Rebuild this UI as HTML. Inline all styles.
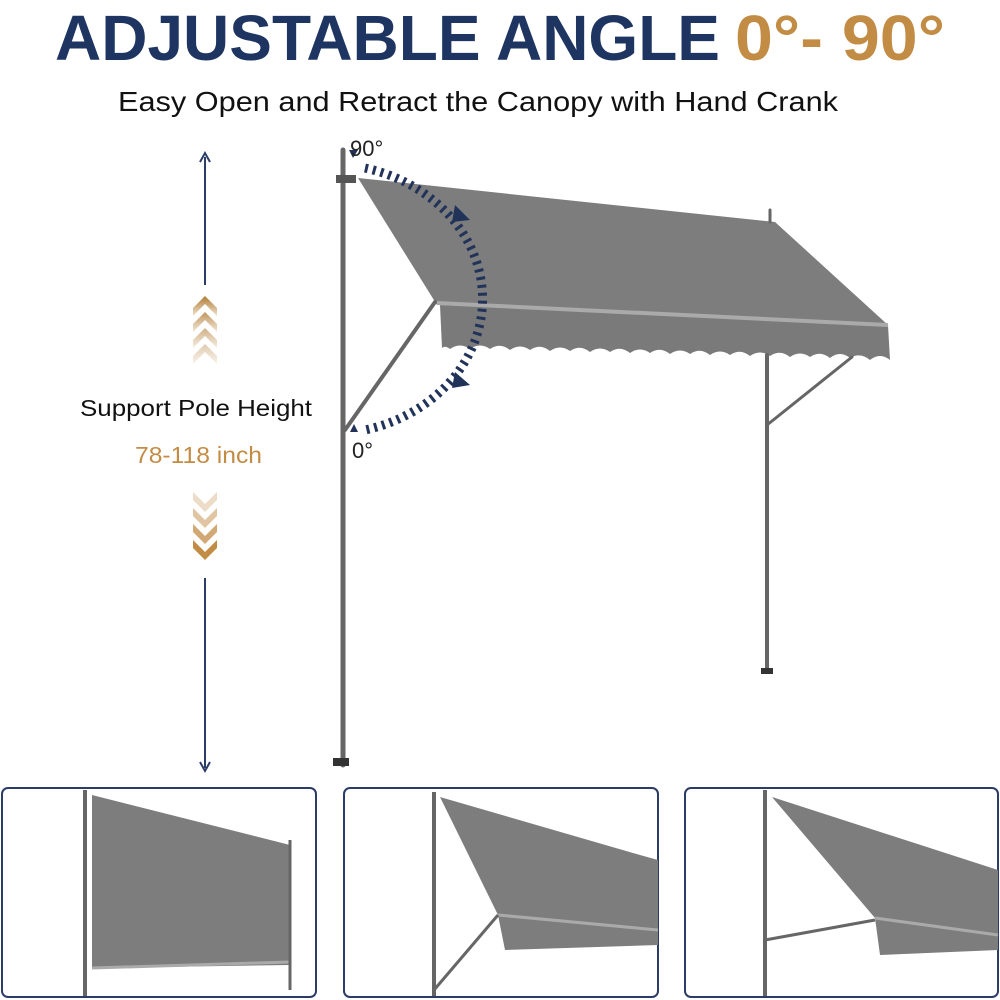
<!DOCTYPE html>
<html><head><meta charset="utf-8"><style>
html,body{margin:0;padding:0;background:#fff;}
svg{display:block;font-family:"Liberation Sans",sans-serif;}
</style></head><body>
<svg width="1000" height="1000" viewBox="0 0 1000 1000">
<defs>
<linearGradient id="cg" x1="0" y1="0" x2="0" y2="1"><stop offset="0" stop-color="#b07a35"/><stop offset="1" stop-color="#f0e2cc"/></linearGradient>
<linearGradient id="cg2" x1="0" y1="0" x2="0" y2="1"><stop offset="0" stop-color="#f0e2cc"/><stop offset="1" stop-color="#b07a35"/></linearGradient>
</defs>
<text x="55" y="60" font-size="64" font-weight="bold" fill="#1e3461" textLength="665" lengthAdjust="spacingAndGlyphs">ADJUSTABLE ANGLE</text>
<text x="735" y="60" font-size="64" font-weight="bold" fill="#c38c45" textLength="210" lengthAdjust="spacingAndGlyphs">0°- 90°</text>
<text x="118" y="111" font-size="28" fill="#111" textLength="720" lengthAdjust="spacingAndGlyphs">Easy Open and Retract the Canopy with Hand Crank</text>
<!-- height arrow -->
<g stroke="#2b3d66" stroke-width="2" fill="none">
<line x1="205" y1="157" x2="205" y2="285"/><line x1="205" y1="578" x2="205" y2="768"/>
<polyline points="200,162 205,153 210,162"/><polyline points="200,762 205,771 210,762"/>
</g>
<g fill="url(#cg)">
<path d="M193,308 L205,296 L217,308 L217,316 L205,304 L193,316Z"/>
<path d="M193,324 L205,312 L217,324 L217,332 L205,320 L193,332Z" opacity=".8"/>
<path d="M193,340 L205,328 L217,340 L217,348 L205,336 L193,348Z" opacity=".6"/>
<path d="M193,356 L205,344 L217,356 L217,364 L205,352 L193,364Z" opacity=".4"/>
</g>
<g fill="#c38c45">
<path d="M193,492 L205,504 L217,492 L217,500 L205,512 L193,500Z" opacity=".3"/>
<path d="M193,508 L205,520 L217,508 L217,516 L205,528 L193,516Z" opacity=".5"/>
<path d="M193,524 L205,536 L217,524 L217,532 L205,544 L193,532Z" opacity=".75"/>
<path d="M193,540 L205,552 L217,540 L217,548 L205,560 L193,548Z"/>
</g>
<text x="80" y="416" font-size="23" fill="#111" textLength="232" lengthAdjust="spacingAndGlyphs">Support Pole Height</text>
<text x="135" y="463" font-size="23" fill="#c38c45" textLength="127" lengthAdjust="spacingAndGlyphs">78-118 inch</text>
<!-- main awning -->
<polygon points="358,178 775,222 888,325 437,305" fill="#7d7d7d"/>
<path d="M440,305 L888,325 L890,360 Q880,352 870,360 Q860,352 850,358 Q840,350 830,358 Q820,350 810,357 Q800,350 790,357 Q780,349 770,356 Q760,349 750,356 Q740,348 730,355 Q720,348 710,355 Q700,347 690,354 Q680,347 670,354 Q660,346 650,353 Q640,346 630,353 Q620,345 610,352 Q600,345 590,352 Q580,344 570,351 Q560,344 550,351 Q540,343 530,350 Q520,343 510,350 Q500,342 490,349 Q480,342 470,349 Q460,342 450,349 Q445,345 442,348Z" fill="#7a7a7a"/>
<line x1="437" y1="303" x2="888" y2="325" stroke="#aaa" stroke-width="4"/>
<g stroke="#666" stroke-linecap="round">
<line x1="343" y1="150" x2="343" y2="765" stroke-width="5"/>
<line x1="345" y1="430" x2="435" y2="302" stroke-width="4"/>
<line x1="767" y1="355" x2="767" y2="672" stroke-width="4"/>
<line x1="767" y1="425" x2="852" y2="357" stroke-width="3"/>
<line x1="770" y1="210" x2="770" y2="222" stroke-width="3"/>
</g>
<rect x="336" y="175" width="20" height="8" fill="#555"/>
<rect x="333" y="758" width="16" height="8" fill="#333"/>
<rect x="761" y="668" width="12" height="6" fill="#333"/>
<!-- dashed arc -->
<path d="M365,168 A155,135 0 0 1 365,430" fill="none" stroke="#22335a" stroke-width="9" stroke-dasharray="3,5"/>
<polygon points="455,205 470,220 452,222" fill="#22335a"/>
<polygon points="455,372 470,385 452,388" fill="#22335a"/>
<polygon points="349,150 358,150 353,158" fill="#22335a"/>
<polygon points="350,432 358,432 354,424" fill="#22335a"/>
<text x="350" y="156" font-size="22" fill="#222">90°</text>
<text x="352" y="458" font-size="22" fill="#222">0°</text>
<!-- bottom panels -->
<g fill="none" stroke="#2b3d66" stroke-width="2">
<rect x="2" y="788" width="314" height="209" rx="6"/>
<rect x="344" y="788" width="314" height="209" rx="6"/>
<rect x="685" y="788" width="313" height="209" rx="6"/>
</g>
<!-- panel 1 -->
<polygon points="92,795 290,845 290,965 92,968" fill="#7d7d7d"/>
<line x1="92" y1="968" x2="290" y2="962" stroke="#aaa" stroke-width="3"/>
<line x1="85" y1="790" x2="85" y2="996" stroke="#666" stroke-width="4"/>
<line x1="290" y1="840" x2="290" y2="990" stroke="#666" stroke-width="3"/>
<!-- panel 2 -->
<polygon points="440,797 640,855 658,860 658,945 505,950 498,915" fill="#7d7d7d"/>
<line x1="498" y1="915" x2="658" y2="930" stroke="#aaa" stroke-width="3"/>
<line x1="434" y1="792" x2="434" y2="996" stroke="#666" stroke-width="4"/>
<line x1="434" y1="990" x2="498" y2="915" stroke="#666" stroke-width="3"/>
<!-- panel 3 -->
<polygon points="772,797 998,870 998,950 880,955 875,918" fill="#7d7d7d"/>
<line x1="875" y1="918" x2="998" y2="935" stroke="#aaa" stroke-width="3"/>
<line x1="765" y1="790" x2="765" y2="996" stroke="#666" stroke-width="4"/>
<line x1="765" y1="940" x2="875" y2="920" stroke="#666" stroke-width="3"/>
</svg>
</body></html>
